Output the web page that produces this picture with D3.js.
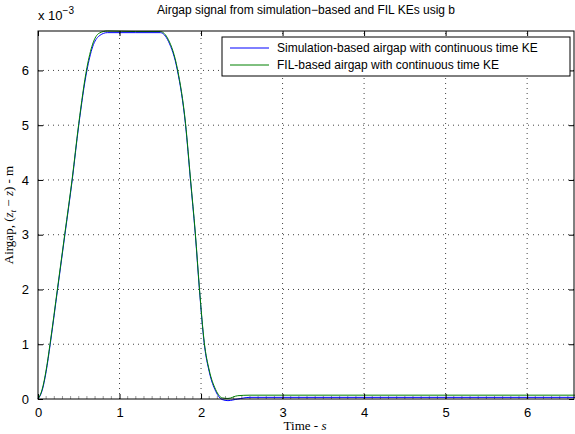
<!DOCTYPE html>
<html>
<head>
<meta charset="utf-8">
<script src="https://cdn.jsdelivr.net/npm/d3@7"></script>
<style>
  body { margin: 0; background: #fff; }
  svg text { font-family: Arial, "Liberation Sans", Helvetica, sans-serif; }
</style>
</head>
<body>
<svg id="chart" width="575" height="434"></svg>
<script>
// time (s) and airgap values (x 1e-3 m)
const time = [0, 0.05, 0.1, 0.15, 0.24, 0.33, 0.42, 0.5, 0.6, 0.67, 0.75, 0.85, 1.2, 1.5, 1.6, 1.71, 1.81, 1.87, 1.93, 1.98, 2.04, 2.1, 2.18, 2.26, 2.33, 2.45, 2.6, 4.0, 6.6];
const simAirgap = [0, 0.15, 0.5, 1.0, 2.0, 3.0, 4.0, 5.0, 6.0, 6.43, 6.63, 6.69, 6.69, 6.69, 6.53, 6.0, 5.0, 4.0, 3.0, 2.0, 1.0, 0.5, 0.14, -0.01, -0.03, 0.0, 0.03, 0.03, 0.03];
const filAirgap = [0, 0.17, 0.53, 1.03, 2.03, 3.03, 4.03, 5.03, 6.05, 6.48, 6.68, 6.72, 6.71, 6.71, 6.56, 6.03, 5.03, 4.03, 3.03, 2.03, 1.03, 0.53, 0.17, 0.02, 0.01, 0.06, 0.07, 0.07, 0.07];
const xTicks = [0, 1, 2, 3, 4, 5, 6];
const yTicks = [0, 1, 2, 3, 4, 5, 6];
const legendLabels = ["Simulation-based airgap with continuous time KE", "FIL-based airgap with continuous time KE"];
const seriesColors = ["#0000ff", "#008000"];

const svg = d3.select("#chart");
const margin = {left: 38, right: 1, top: 31, bottom: 35};
const width = 575, height = 434;

const x = d3.scaleLinear().domain([0, 6.575]).range([margin.left, width - margin.right]);
const y = d3.scaleLinear().domain([0, 6.72]).range([height - margin.bottom, margin.top]);

// grid
const grid = svg.append("g").attr("stroke", "#444").attr("stroke-dasharray", "1,4").attr("stroke-width", 1);
xTicks.slice(1).forEach(t => {
    grid.append("line").attr("x1", x(t)).attr("x2", x(t)).attr("y1", y.range()[0]).attr("y2", y.range()[1]);
});
yTicks.slice(1).forEach(t => {
    grid.append("line").attr("x1", x.range()[0]).attr("x2", x.range()[1]).attr("y1", y(t)).attr("y2", y(t));
});

// minor ticks along the bottom
const minor = svg.append("g").attr("stroke", "#999");
d3.range(1, 66).filter(i => i % 10 !== 0).forEach(i => {
    minor.append("line").attr("x1", x(i / 10)).attr("x2", x(i / 10))
        .attr("y1", y(0)).attr("y2", y(0) - 3);
});

// lines
const line = vals => d3.line()
    .x((d, i) => x(time[i]))
    .y(d => y(d))
    .curve(d3.curveMonotoneX)(vals);

svg.append("path").attr("d", line(simAirgap)).attr("fill", "none")
    .attr("stroke", seriesColors[0]).attr("stroke-width", 1);
svg.append("path").attr("d", line(filAirgap)).attr("fill", "none")
    .attr("stroke", seriesColors[1]).attr("stroke-width", 1);

// axes box
svg.append("rect")
    .attr("x", x.range()[0]).attr("y", y.range()[1])
    .attr("width", x.range()[1] - x.range()[0]).attr("height", y.range()[0] - y.range()[1])
    .attr("fill", "none").attr("stroke", "#000").attr("stroke-width", 1);

const fmt = d3.format("d");
const bottomAxis = d3.axisBottom(x).tickValues(xTicks).tickFormat(fmt).tickSizeInner(-5).tickSizeOuter(0).tickPadding(9);
const topAxis = d3.axisTop(x).tickValues(xTicks).tickSizeInner(-5).tickSizeOuter(0).tickFormat("");
const leftAxis = d3.axisLeft(y).tickValues(yTicks).tickFormat(fmt).tickSizeInner(-5).tickSizeOuter(0).tickPadding(9);
const rightAxis = d3.axisRight(y).tickValues(yTicks).tickSizeInner(-5).tickSizeOuter(0).tickFormat("");

[[bottomAxis, `translate(0,${y(0)})`], [topAxis, `translate(0,${y.range()[1]})`],
 [leftAxis, `translate(${x.range()[0]},0)`], [rightAxis, `translate(${x.range()[1]},0)`]].forEach(([ax, tr]) => {
    const g = svg.append("g").attr("transform", tr).call(ax);
    g.select(".domain").remove();
    g.selectAll("text").style("font-size", "13px").attr("fill", "#000");
});

// exponent label
const expo = svg.append("text").attr("x", 38).attr("y", 20).style("font-size", "13px");
expo.append("tspan").text("x 10");
expo.append("tspan").attr("dy", -6).style("font-size", "10px").text("−3");

// title
svg.append("text").attr("x", 306).attr("y", 14).attr("text-anchor", "middle")
    .style("font-size", "12px").text("Airgap signal from simulation−based and FIL KEs usig b");

// axis labels
svg.append("text").attr("x", 305).attr("y", 430).attr("text-anchor", "middle")
    .style("font-family", "'Liberation Serif', 'Times New Roman', serif").style("font-size", "13px")
    .html("Time - <tspan font-style='italic'>s</tspan>");

const ylab = svg.append("text").attr("transform", "translate(13,215) rotate(-90)")
    .attr("text-anchor", "middle")
    .style("font-family", "'Liberation Serif', 'Times New Roman', serif").style("font-size", "13px");
ylab.append("tspan").text("Airgap, (");
ylab.append("tspan").attr("font-style", "italic").text("z");
ylab.append("tspan").attr("font-style", "italic").attr("dy", 3).style("font-size", "9px").text("t");
ylab.append("tspan").attr("dy", -3).text(" − ");
ylab.append("tspan").attr("font-style", "italic").text("z");
ylab.append("tspan").text(") - m");

// legend
const lg = svg.append("g").attr("transform", "translate(222,37)");
lg.append("rect").attr("width", 348).attr("height", 39).attr("fill", "#fff").attr("stroke", "#000");
legendLabels.forEach((lab, i) => {
    const yy = 11 + i * 17;
    lg.append("line").attr("x1", 8).attr("x2", 47).attr("y1", yy).attr("y2", yy)
        .attr("stroke", seriesColors[i]).attr("stroke-width", 1);
    lg.append("text").attr("x", 55).attr("y", yy + 4).style("font-size", "12px").text(lab);
});
</script>
</body>
</html>
